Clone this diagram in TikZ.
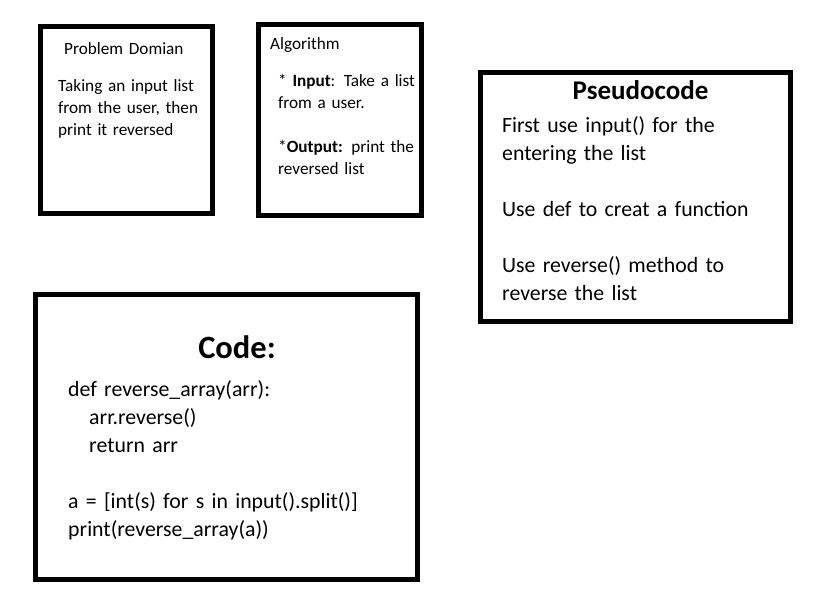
\documentclass[tikz,border=0pt]{standalone}
\usepackage{fontspec}
\setmainfont{Carlito}
\begin{document}
\begin{tikzpicture}[x=1pt,y=-1pt,
  panel/.style={draw,line width=5pt},
  small/.style={font=\fontsize{17.2}{22}\selectfont,anchor=base west,inner sep=0pt,align=left,text width=160pt},
  big/.style={font=\fontsize{21.8}{28}\selectfont,anchor=base west,inner sep=0pt,align=left,text width=340pt}]
\useasboundingbox (0,0) rectangle (814,611);
% the four panels
\draw[panel] (40.5,26.5) rectangle (212.5,213.5);
\draw[panel] (258.5,24.5) rectangle (421.5,215.5);
\draw[panel] (480,72.5) rectangle (790,321.5);
\draw[panel] (35.5,294) rectangle (417.5,579.5);
% problem domain
\node[small] (domtitle) at (64,54) {Problem Domian};
\node[small] (domtext) at (58,91) {Taking an input list\\from the user, then\\print it reversed};
% algorithm
\node[small] (algtitle) at (270,49) {Algorithm};
\node[small] (algtext) at (278,86) {* \textbf{Input}: Take a list\\from a user.\\[22pt]*\textbf{Output:} print the\\reversed list};
% pseudocode
\node[font=\fontsize{27}{30}\selectfont\bfseries,anchor=base,inner sep=0pt] (psetitle) at (640.5,99) {Pseudocode};
\node[big] (psetext) at (502,132.7) {First use input() for the\\entering the list\\[28pt]Use def to creat a function\\[28pt]Use reverse() method to\\reverse the list};
% code
\node[font=\fontsize{32.5}{36}\selectfont\bfseries,anchor=base,inner sep=0pt] (codetitle) at (237,358) {Code:};
\node[big] (codetext) at (68,396.7) {def reverse\_array(arr):\\\hspace*{21pt}arr.reverse()\\\hspace*{21pt}return arr\\[28pt]a = [int(s) for s in input().split()]\\print(reverse\_array(a))};
\end{tikzpicture}
\end{document}
